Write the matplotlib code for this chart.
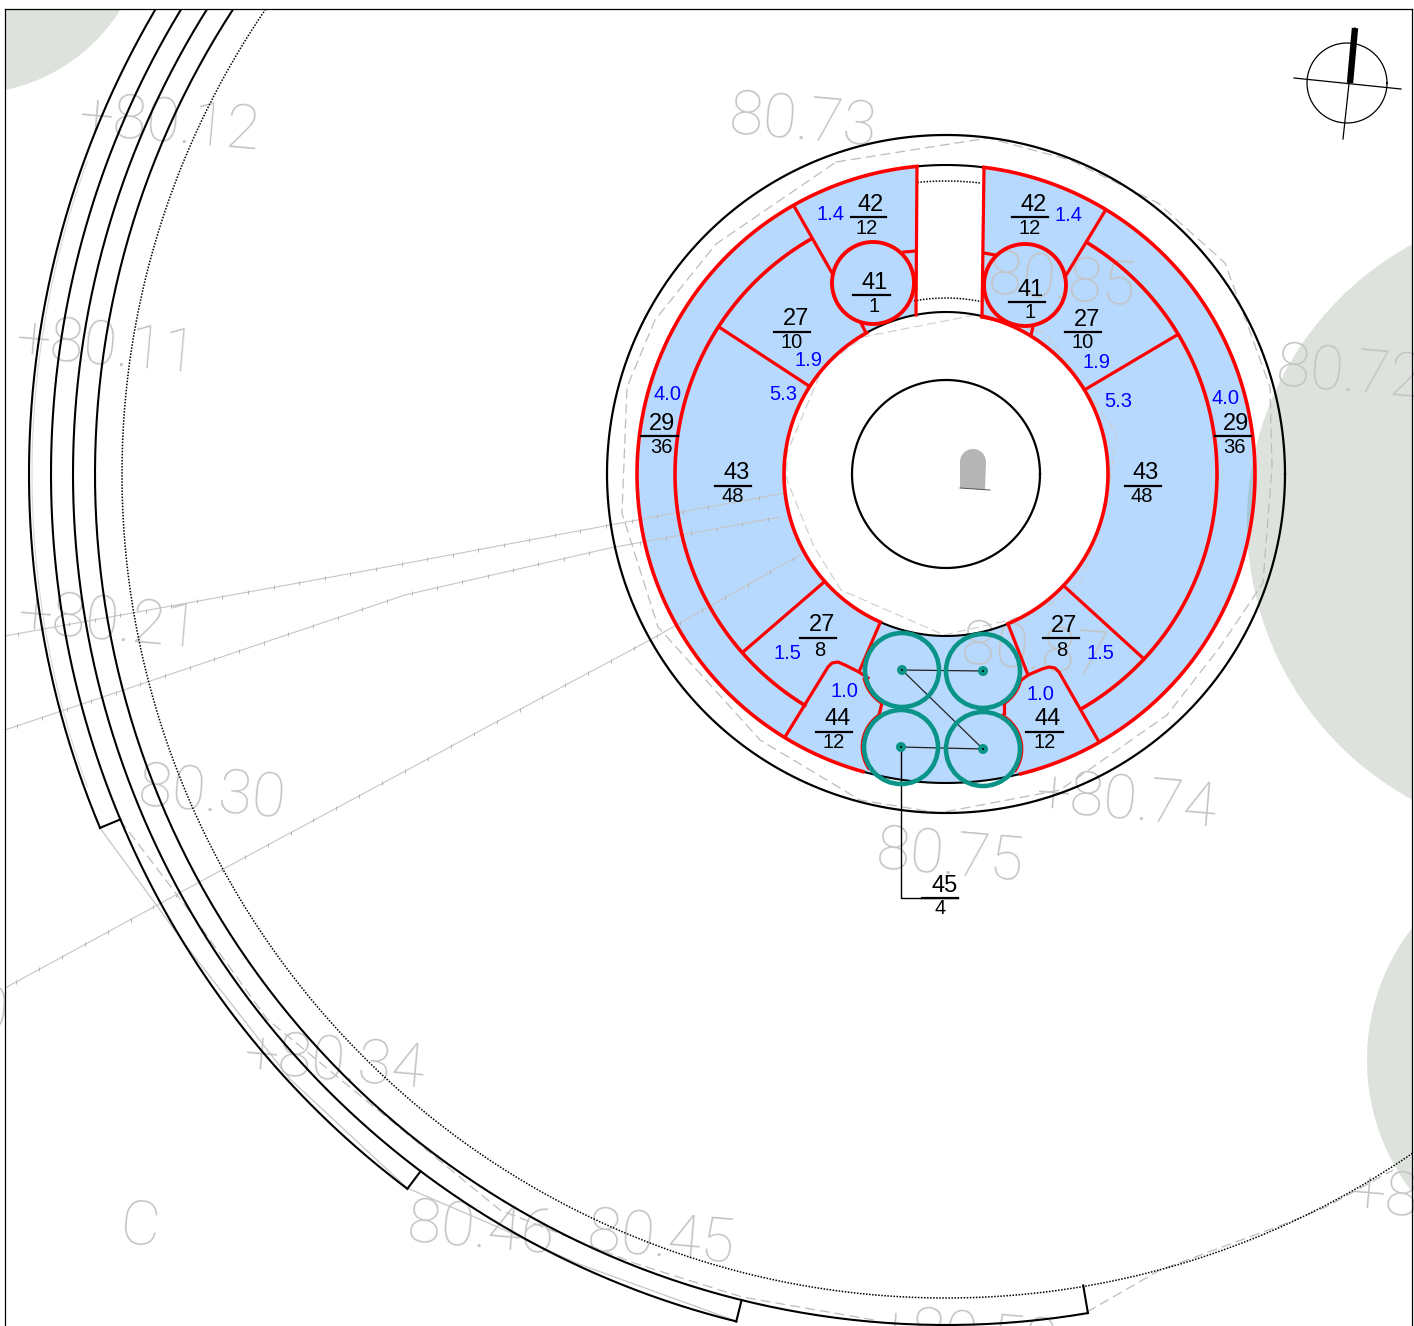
import numpy as np
import matplotlib
matplotlib.use("Agg")
import matplotlib.pyplot as plt
from matplotlib.patches import Circle, Wedge, Polygon

# everything is in reference pixels
W, H = 1414, 1326
cx, cy = 946, 474

# ring radii
r_outer_black = 339
r_red_outer = 309
r_red_mid = 271
r_red_inner = 162
r_core = 94
r_gap_dot_top = 293
r_gap_dot_low = 176

# stepped path arcs on the left: radius, end angle
path_radii = [917, 895, 873, 851]
path_ends = [157.3, 127.0, 103.9, 80.4]
path_caps = [895, 873, 851, 823]
r_path_dot = 824

# red arcs: radius, start, end angle (deg, clockwise on screen)
red_arcs = [
    (309, 277, 436), (309, 105.6, 264.6),
    (271, 301.8, 420), (271, 121.4, 240.2),
    (162, 282.9, 427.5), (162, 113.9, 240.7),
]
black_arcs = [
    (309, 76, 105.6), (309, 264.6, 277),
    (162, 67.5, 113.9), (162, 240.7, 282.9),
]

red_lines = [
    [(917, 167), (916, 315)],
    [(984, 168), (982, 317)],
    [(719, 327), (809, 386)],
    [(1177, 335), (1086, 389)],
    [(794, 206), (832, 273)],
    [(1105, 211), (1065, 277)],
    [(904, 252), (916, 251)],
    [(861, 323), (866, 333)],
    [(984, 253), (995, 255)],
    [(1033, 327), (1031, 335)],
    [(982, 317), (996, 320), (1017, 327)],
    [(823, 583), (743, 652)],
    [(1065, 587), (1144, 659)],
    [(880, 623), (859, 672), (868, 678)],
    [(859, 672), (845, 665), (838, 662), (832, 663), (828, 667), (785, 737)],
    [(882, 703), (879, 715)],
    [(1008, 624), (1028, 675), (1020, 681)],
    [(1028, 675), (1042, 669), (1049, 667), (1055, 668), (1059, 672), (1099, 742)],
    [(1004, 705), (1004, 713)],
]
red_circles = [(873, 283, 41), (1025, 285, 41)]

teal_x = [902, 983, 901, 983]
teal_y = [670, 671, 747, 749]
teal_r = 37
# red edge that hugs the wells: well index, start, end angle
hug_well = [0, 2, 1, 3]
hug_a0 = [121, 146.7, 15, -60]
hug_a1 = [166.8, 235.5, 58, 34]
cable_pairs = [(0, 1), (0, 3), (2, 3)]
leader_x = [901, 901, 958]
leader_y = [747, 898, 898]

# number labels
frac_num = ["42", "42", "41", "41", "27", "27", "29", "29", "43", "43", "27", "27", "44", "44", "45"]
frac_den = ["12", "12", "1", "1", "10", "10", "36", "36", "48", "48", "8", "8", "12", "12", "4"]
num_x = [871, 1034, 875, 1031, 796, 1087, 662, 1236, 737, 1146, 822, 1064, 838, 1048, 945]
num_y = [205, 205, 283, 290, 319, 320, 424, 424, 473, 473, 625, 626, 719, 719, 886]
den_x = [867, 1030, 874, 1030, 792, 1083, 661, 1234, 733, 1142, 820, 1062, 834, 1045, 940]
den_y = [229, 229, 307, 313, 343, 343, 448, 448, 497, 497, 651, 651, 743, 743, 909]
bar_x0 = [851, 1012, 853, 1009, 774, 1065, 641, 1215, 715, 1125, 800, 1043, 816, 1026, 922]
bar_x1 = [886, 1048, 890, 1045, 810, 1101, 678, 1251, 751, 1161, 836, 1079, 852, 1063, 958]
bar_y = [217, 217, 295, 302, 332, 332, 436, 436, 486, 486, 638, 638, 732, 732, 898]

blue_txt = ["1.4", "1.4", "1.9", "1.9", "5.3", "5.3", "4.0", "4.0", "1.5", "1.5", "1.0", "1.0"]
blue_x = [830, 1069, 808, 1096, 783, 1118, 667, 1226, 787, 1100, 844, 1040]
blue_y = [215, 216, 361, 363, 395, 402, 395, 399, 654, 654, 692, 695]

# spot heights in the background
spot_txt = ["+80.12", "80.73", "+80.11", "+80.21", "80.30", "+80.34", "C", "80.46", "80.45",
            "80.75", "+80.74", "80.72", "80.85", "80.87", "+8", "+80.52", "0"]
spot_x = [170, 803, 107, 109, 212, 335, 140, 481, 661, 950, 1127, 1350, 1062, 1035, 1385, 968, -10]
spot_y = [125, 123, 348, 623, 795, 1063, 1228, 1231, 1240, 858, 802, 375, 283, 653, 1198, 1338, 1013]

green_circles = [(-32, -86, 180), (1563, 522, 316), (1583, 1060, 216)]

# grey survey lines with small ticks
survey_lines = [
    [(5, 636), (370, 570), (610, 525), (785, 493)],
    [(5, 730), (405, 595), (610, 548), (780, 517)],
    [(5, 988), (240, 860), (500, 720), (650, 640), (800, 555)],
]
dash_outer = [(836, 162), (988, 138), (1070, 160), (1158, 203), (1225, 263), (1270, 387), (1272, 467),
              (1263, 583), (1220, 647), (1167, 715), (1060, 790), (939, 813), (860, 800), (760, 740),
              (658, 627), (622, 513), (627, 387), (655, 320), (716, 244), (836, 162)]
dash_inner = [(975, 315), (863, 337), (823, 367), (787, 453), (787, 480), (814, 547), (841, 590), (944, 635),
              (1010, 620), (1060, 600), (1082, 580), (1108, 500), (1116, 433), (1046, 333), (975, 315)]
dash_path = [(120, 820), (187, 908), (267, 1019), (340, 1079), (500, 1210), (634, 1263), (742, 1297), (874, 1320)]
solid_path = [(100, 828), (187, 947), (290, 1079), (407, 1188), (500, 1228), (576, 1263), (736, 1321)]
dash_right = [(1087, 1312), (1160, 1270), (1282, 1225), (1326, 1207), (1393, 1170)]

red = "#ff0000"
teal = "#0a9488"
fill_blue = "#b7d9fe"
overlap_blue = "#a6c6d6"
green = "#dde3dc"
grey = "#c6c6c6"


def arc(r, a0, a1, x0=cx, y0=cy):
    t = np.radians(np.linspace(a0, a1, 300))
    return x0 + r * np.cos(t), y0 + r * np.sin(t)


def polar(r, a):
    t = np.radians(a)
    return cx + r * np.cos(t), cy + r * np.sin(t)


def draw_line(pts, **kw):
    xs, ys = zip(*pts)
    ax.plot(xs, ys, **kw)


plt.rcParams["font.family"] = ["Liberation Sans", "DejaVu Sans"]

fig = plt.figure(figsize=(W / 100, H / 100), dpi=100)
ax = fig.add_axes([5 / W, 0, 1407 / W, (H - 9) / H])
ax.set_xlim(5, 1412)
ax.set_ylim(H, 9)
ax.set_xticks([])
ax.set_yticks([])
ax.spines["bottom"].set_visible(False)
for s in ["left", "top", "right"]:
    ax.spines[s].set_linewidth(0.9)
    ax.spines[s].set_zorder(20)

for gx, gy, gr in green_circles:
    ax.add_patch(Circle((gx, gy), gr, color=green, lw=0, zorder=0))

# blue ring with the white access gap
ax.add_patch(Wedge((cx, cy), r_red_outer, 0, 360, width=r_red_outer - r_red_inner,
                   facecolor=fill_blue, edgecolor="none", zorder=1))
lens = Wedge((cx, cy), r_red_outer, 0, 360, width=r_red_outer - r_red_inner,
             facecolor=overlap_blue, edgecolor="none", zorder=1.2)
ax.add_patch(lens)
lens_clip = Circle(green_circles[1][:2], green_circles[1][2], transform=ax.transData)
lens.set_clip_path(lens_clip)
ax.add_patch(Polygon([(917, 155), (984, 155), (982, 318), (916, 318)], facecolor="white",
                     edgecolor="none", zorder=1.5))

# grey background stuff
for line in survey_lines:
    draw_line(line, color=grey, lw=0.8, zorder=2)
    pts = np.array(line, dtype=float)
    dist = np.r_[0, np.cumsum(np.hypot(*np.diff(pts, axis=0).T))]
    at = np.arange(13, dist[-1], 26)
    ax.plot(np.interp(at, dist, pts[:, 0]), np.interp(at, dist, pts[:, 1]), ls="none", marker="|",
            ms=3, mew=0.7, color="#b5b5b5", zorder=2)
for line in [dash_outer, dash_path, dash_right]:
    draw_line(line, color="#bdbdbd", lw=0.9, ls=(0, (8, 4)), zorder=2)
draw_line(dash_inner, color="#cccccc", lw=0.8, ls=(0, (8, 4)), zorder=2)
draw_line(solid_path, color=grey, lw=0.9, zorder=2)
ax.plot(*arc(914, 160, 200), color="#d8d8d8", lw=0.8, zorder=2)

for t, x, y in zip(spot_txt, spot_x, spot_y):
    ax.text(x, y, t, fontsize=44, family=["Roboto", "DejaVu Sans"], fontweight=100, color="#c4c4c4",
            rotation=-5, ha="center", va="center", rotation_mode="anchor", zorder=2.5)

# left stepped path
for r, end, cap in zip(path_radii, path_ends, path_caps):
    ax.plot(*arc(r, end, 250), color="black", lw=1.5, zorder=3)
    p0, p1 = polar(r, end), polar(cap, end)
    ax.plot([p0[0], p1[0]], [p0[1], p1[1]], color="black", lw=1.5, zorder=3)
ax.plot(*arc(r_path_dot, 50, 250), color="black", lw=1.1, ls=(0, (1, 1)), zorder=3)

# ring outlines
ax.plot(*arc(r_outer_black, 0, 360), color="black", lw=1.6, zorder=3)
ax.plot(*arc(r_core, 0, 360), color="black", lw=1.6, zorder=3)
for r, a0, a1 in black_arcs:
    ax.plot(*arc(r, a0, a1), color="black", lw=1.5, zorder=3)
ax.plot(*arc(r_gap_dot_top, 264.4, 276.8), color="black", lw=1.1, ls=(0, (1, 1)), zorder=3)
ax.plot(*arc(r_gap_dot_low, 259.5, 282), color="black", lw=1.1, ls=(0, (1, 1)), zorder=3)

for r, a0, a1 in red_arcs:
    ax.plot(*arc(r, a0, a1), color=red, lw=2.6, zorder=4)
for line in red_lines:
    draw_line(line, color=red, lw=2.3, zorder=4, solid_joinstyle="round")
for x, y, r in red_circles:
    ax.add_patch(Circle((x, y), r, fill=False, edgecolor=red, lw=2.8, zorder=4.5))
for w, a0, a1 in zip(hug_well, hug_a0, hug_a1):
    ax.plot(*arc(teal_r + 2, a0, a1, teal_x[w], teal_y[w]), color=red, lw=2.0, zorder=4)

# grey block in the core
bx, by = arc(13, 180, 360, 973, 462)
ax.add_patch(Polygon(np.r_[[(960, 488), (985, 490)], np.c_[bx[::-1], by[::-1]]], closed=True,
                     facecolor="#b5b5b5", edgecolor="none", zorder=3))
ax.plot([960, 990], [488, 490], color="#555555", lw=0.7, zorder=3)

# cables and wells
for a, b in cable_pairs:
    ax.plot([teal_x[a], teal_x[b]], [teal_y[a], teal_y[b]], color="#222222", lw=0.9, zorder=5)
ax.plot(leader_x, leader_y, color="black", lw=1.0, zorder=5)
for x, y in zip(teal_x, teal_y):
    ax.add_patch(Circle((x, y), teal_r, fill=False, edgecolor=teal, lw=3.3, zorder=5.5))
    ax.add_patch(Circle((x, y), 5, facecolor=teal, edgecolor="none", zorder=6))
    ax.add_patch(Circle((x, y), 1, facecolor="black", edgecolor="none", zorder=6.5))

# labels
for i in range(len(frac_num)):
    ax.text(num_x[i], num_y[i], frac_num[i], fontsize=17, ha="center", va="center", color="black", zorder=8)
    ax.text(den_x[i], den_y[i], frac_den[i], fontsize=14.5, ha="center", va="center", color="black", zorder=8)
    ax.plot([bar_x0[i], bar_x1[i]], [bar_y[i], bar_y[i]], color="black", lw=1.6, zorder=8)
for t, x, y in zip(blue_txt, blue_x, blue_y):
    ax.text(x, y, t, fontsize=14.5, color="#0000ff", ha="center", va="center", zorder=8)

# north mark
ax.plot(*arc(40, 0, 360, 1347, 83), color="black", lw=0.9, zorder=8)
ax.plot([1294, 1401], [78, 89], color="black", lw=0.9, zorder=8)
ax.plot([1355, 1343], [28, 139], color="black", lw=0.9, zorder=8)
ax.plot([1355, 1350], [28, 83], color="black", lw=4.6, solid_capstyle="butt", zorder=8)

fig.savefig("out.png", dpi=100)
